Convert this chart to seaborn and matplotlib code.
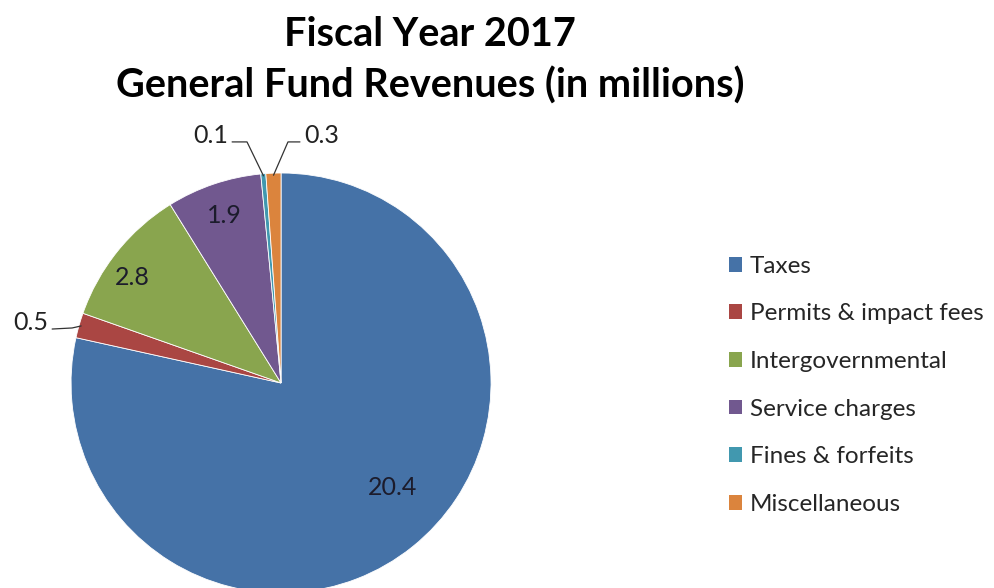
import matplotlib
matplotlib.use("Agg")
import matplotlib.pyplot as plt
from matplotlib.patches import Patch
import numpy as np
import seaborn as sns

# Revenue categories (millions of dollars)
categories = ["Taxes", "Permits & impact fees", "Intergovernmental",
              "Service charges", "Fines & forfeits", "Miscellaneous"]
revenues = [20.4, 0.5, 2.8, 1.9, 0.1, 0.3]
value_labels = ["20.4", "0.5", "2.8", "1.9", "0.1", "0.3"]

title_lines = ["Fiscal Year 2017", "General Fund Revenues (in millions)"]

sns.set_theme(style="white")
plt.rcParams["font.family"] = ["Lato", "DejaVu Sans"]

palette = sns.color_palette(["#4572A7", "#AA4643", "#89A54E",
                             "#71588F", "#4198AF", "#DB843D"])

fig = plt.figure(figsize=(9.95, 5.88), dpi=100)
ax = fig.add_axes([0.0714, -0.0085, 0.4221, 0.7143])

wedges, _ = ax.pie(revenues, colors=palette, startangle=90, counterclock=False,
                   radius=1.0, wedgeprops=dict(edgecolor="white", linewidth=0.6))
ax.set_xlim(-1, 1)
ax.set_ylim(-1, 1)
ax.set_aspect("equal")
ax.axis("off")

label_color = "#1c1c2c"

# Inside labels: (radial fraction, angular nudge in degrees)
inside = {0: (0.73, 8.0), 2: (0.87, 3.5), 3: (0.84, 0.0)}
for i, (frac, nudge) in inside.items():
    w = wedges[i]
    mid = np.deg2rad((w.theta1 + w.theta2) / 2 + nudge)
    ax.text(frac * np.cos(mid), frac * np.sin(mid), value_labels[i],
            ha="center", va="center", fontsize=18, color=label_color)

def edge_point(w, r=1.0):
    mid = np.deg2rad((w.theta1 + w.theta2) / 2)
    return r * np.cos(mid), r * np.sin(mid)

# Outside labels with leader lines: (line start, elbow, text side) in axes units
outside = {
    1: ((-1.09, 0.257), (-0.995, 0.262), "right"),
    4: ((-0.233, 1.148), (-0.162, 1.148), "right"),
    5: ((0.09, 1.148), (0.033, 1.148), "left"),
}
for i, (start, elbow, side) in outside.items():
    ex, ey = edge_point(wedges[i], 0.99)
    ax.plot([start[0], elbow[0], ex], [start[1], elbow[1], ey],
            color="#333333", lw=0.9, clip_on=False)
    tx = start[0] + (-0.02 if side == "right" else 0.02)
    ax.text(tx, start[1] + 0.03, value_labels[i],
            ha=side, va="center", fontsize=18, color="#222222")

fig.text(0.432, 0.941, title_lines[0], ha="center", va="center",
         fontsize=28.5, fontweight="bold", color="black")
fig.text(0.432, 0.855, title_lines[1], ha="center", va="center",
         fontsize=28.5, fontweight="bold", color="black")

handles = [Patch(facecolor=c, edgecolor="none") for c in palette]
fig.legend(handles, categories, loc="upper left", bbox_to_anchor=(0.723, 0.5815),
           frameon=False, fontsize=17.5, handlelength=0.55, handleheight=0.55,
           handletextpad=0.3, labelspacing=1.095, borderaxespad=0)

fig.savefig("out.png", dpi=100, facecolor="white")
